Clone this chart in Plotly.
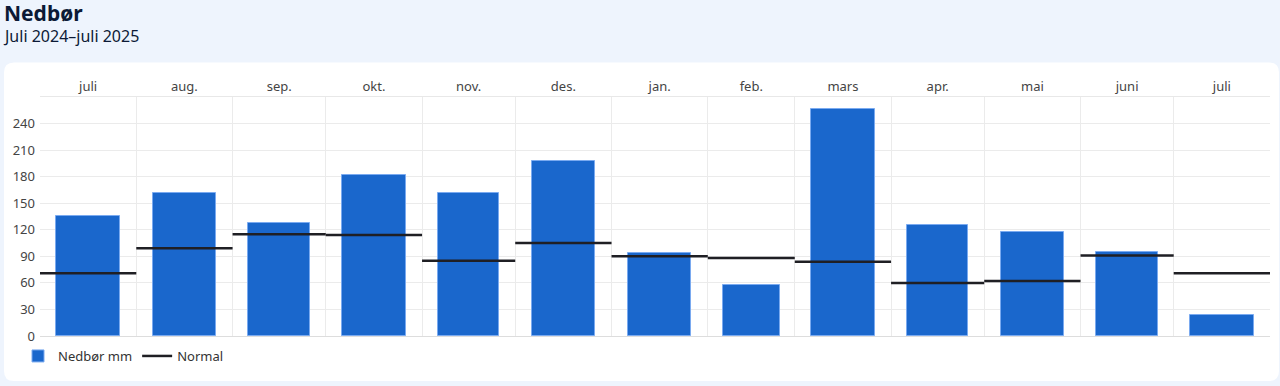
import pandas as pd
import plotly.graph_objects as go

# ---- data ----
months = ["juli", "aug.", "sep.", "okt.", "nov.", "des.", "jan.", "feb.",
          "mars", "apr.", "mai", "juni", "juli"]
precip_mm = [136, 161, 128, 182, 162, 198, 94, 58, 256, 125, 117, 95, 23.5]
normal_mm = [71, 99, 115, 114, 85, 105, 90, 88, 84, 60, 62, 91, 71]
y_ticks = [0, 30, 60, 90, 120, 150, 180, 210, 240]
first_month = "2024-07-01"

# ---- derived positions from dates ----
starts = pd.date_range(first_month, periods=len(months) + 1, freq="MS")
bounds = list(starts)
mids = [bounds[i] + (bounds[i + 1] - bounds[i]) / 2 for i in range(len(months))]
durations_ms = [(bounds[i + 1] - bounds[i]).total_seconds() * 1000 for i in range(len(months))]
bar_widths = [d * 0.66 for d in durations_ms]

norm_x, norm_y = [], []
for i, v in enumerate(normal_mm):
    norm_x += [bounds[i], bounds[i + 1], None]
    norm_y += [v, v, None]

W, H = 1280, 386
ML, MR, MT, MB = 40, 10, 97, 50
PW, PH = W - ML - MR, H - MT - MB


def px_x(p):
    return (p - ML) / PW


def px_y(p):
    return 1 - (p - MT) / PH


fig = go.Figure()
fig.add_trace(go.Bar(
    x=mids, y=precip_mm, width=bar_widths, name="Nedbør mm",
    marker=dict(color="#1a67cc", line=dict(color="#7aaaf0", width=1)),
))
fig.add_trace(go.Scatter(
    x=norm_x, y=norm_y, mode="lines", name="Normal",
    line=dict(color="#1f1f24", width=2.5),
))

# white card
x0, x1 = px_x(4), px_x(1279)
y0, y1 = px_y(381), px_y(62.5)
rx, ry = 10 / PW, 10 / PH
path = (f"M {x0+rx},{y1} L {x1-rx},{y1} Q {x1},{y1} {x1},{y1-ry} "
        f"L {x1},{y0+ry} Q {x1},{y0} {x1-rx},{y0} L {x0+rx},{y0} "
        f"Q {x0},{y0} {x0},{y0+ry} L {x0},{y1-ry} Q {x0},{y1} {x0+rx},{y1} Z")

fig.update_layout(
    width=W, height=H,
    margin=dict(l=ML, r=MR, t=MT, b=MB),
    paper_bgcolor="#eef4fd",
    plot_bgcolor="rgba(0,0,0,0)",
    font=dict(family="Noto Sans, Open Sans, sans-serif", size=13, color="#333333"),
    showlegend=True,
    legend=dict(orientation="h", x=px_x(18), xanchor="left", y=px_y(341), yanchor="top",
                font=dict(size=13, color="#333333"), bgcolor="rgba(0,0,0,0)",
                traceorder="normal"),
    bargap=0,
    shapes=[dict(type="path", path=path, xref="paper", yref="paper",
                 fillcolor="white", line=dict(width=0), layer="below")],
    annotations=[
        dict(text="<b>Nedbør</b>", xref="paper", yref="paper", x=px_x(2), y=px_y(13),
             xanchor="left", yanchor="middle", showarrow=False,
             font=dict(size=21, color="#0c1a36")),
        dict(text="Juli 2024–juli 2025", xref="paper", yref="paper", x=px_x(1), y=px_y(36),
             xanchor="left", yanchor="middle", showarrow=False,
             font=dict(size=16, color="#0c1a36")),
    ],
)

fig.update_xaxes(
    type="date", range=[bounds[0], bounds[-1]], side="top",
    tickmode="array", tickvals=mids, ticktext=months,
    showgrid=False, showline=True, linecolor="#e8e8e8", linewidth=1,
    ticks="", tickfont=dict(size=13, color="#444444"),
    minor=dict(tickmode="array", tickvals=bounds, showgrid=True,
               gridcolor="#ebebeb", gridwidth=1, ticks=""),
    fixedrange=True,
)
fig.update_yaxes(
    range=[0, 270], tickmode="array", tickvals=y_ticks,
    showgrid=True, gridcolor="#ebebeb", gridwidth=1,
    zeroline=True, zerolinecolor="#dddddd", zerolinewidth=1,
    ticks="", ticklabelstandoff=4, tickfont=dict(size=13, color="#444444"),
    fixedrange=True,
)

fig.write_html("out.html")
